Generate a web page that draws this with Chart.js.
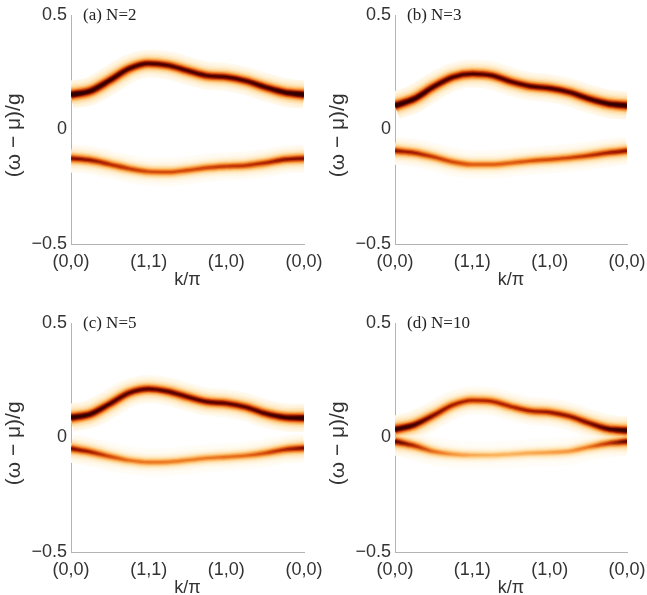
<!DOCTYPE html>
<html>
<head>
<meta charset="utf-8">
<script src="https://cdn.jsdelivr.net/npm/chart.js@4/dist/chart.umd.min.js"></script>
<style>
  html, body { margin: 0; padding: 0; background: #fff; }
  #wrap { position: relative; width: 647px; height: 595px; }
  canvas { position: absolute; }
</style>
</head>
<body>
<div id="wrap">
  <canvas id="pa" width="324" height="287" style="left:0;top:0"></canvas>
  <canvas id="pb" width="323" height="287" style="left:324px;top:0"></canvas>
  <canvas id="pc" width="324" height="287" style="left:0;top:308px"></canvas>
  <canvas id="pd" width="323" height="287" style="left:324px;top:308px"></canvas>
</div>
<script>
// momentum path (0,0) -> (1,1) -> (1,0) -> (0,0), equal spacing per leg
const kPoints = [0, 0.25, 0.5, 0.75, 1, 1.25, 1.5, 1.75, 2, 2.25, 2.5, 2.75, 3];
const kTickLabels = ['(0,0)', '(1,1)', '(1,0)', '(0,0)'];
const yTickLabels = ['\u22120.5', '0', '0.5'];

// band centres (omega - mu)/g
const upperN2 = [0.152, 0.168, 0.215, 0.266, 0.288, 0.28, 0.257, 0.235, 0.229, 0.212, 0.185, 0.162, 0.152];
const lowerN2 = [-0.126, -0.134, -0.152, -0.171, -0.184, -0.186, -0.178, -0.167, -0.161, -0.157, -0.146, -0.131, -0.126];
const upperN3 = [0.104, 0.134, 0.187, 0.229, 0.243, 0.236, 0.209, 0.189, 0.18, 0.163, 0.135, 0.113, 0.104];
const lowerN3 = [-0.093, -0.102, -0.12, -0.142, -0.153, -0.153, -0.146, -0.137, -0.131, -0.124, -0.114, -0.102, -0.093];
const upperN5 = [0.087, 0.102, 0.147, 0.195, 0.212, 0.201, 0.177, 0.156, 0.149, 0.133, 0.105, 0.088, 0.085];
const lowerN5 = [-0.048, -0.063, -0.083, -0.1, -0.108, -0.107, -0.099, -0.09, -0.085, -0.079, -0.068, -0.053, -0.046];
const upperN10 = [0.035, 0.055, 0.097, 0.142, 0.162, 0.158, 0.135, 0.116, 0.11, 0.093, 0.064, 0.038, 0.03];
const lowerN10 = [-0.017, -0.036, -0.061, -0.073, -0.077, -0.077, -0.073, -0.068, -0.065, -0.06, -0.042, -0.026, -0.017];

// spectral weight along each band (relative)
const weightUpperN2 = [1.3, 1.2, 1.1, 1.05, 1.0, 1.0, 1.0, 1.0, 1.0, 1.0, 1.05, 1.15, 1.3];
const weightLowerN2 = [0.85, 0.8, 0.7, 0.65, 0.6, 0.6, 0.6, 0.62, 0.65, 0.67, 0.72, 0.8, 0.85];
const weightUpperN3 = [1.25, 1.15, 1.05, 1.0, 1.0, 0.98, 0.98, 1.0, 1.0, 1.0, 1.05, 1.15, 1.25];
const weightLowerN3 = [0.8, 0.75, 0.65, 0.6, 0.55, 0.55, 0.55, 0.58, 0.6, 0.62, 0.68, 0.75, 0.8];
const weightUpperN5 = [1.25, 1.1, 1.0, 0.95, 0.95, 0.95, 0.95, 0.95, 0.95, 0.95, 1.0, 1.1, 1.25];
const weightLowerN5 = [0.85, 0.75, 0.6, 0.5, 0.48, 0.47, 0.47, 0.48, 0.5, 0.52, 0.6, 0.72, 0.85];
const weightUpperN10 = [1.2, 1.05, 0.85, 0.75, 0.72, 0.72, 0.72, 0.75, 0.78, 0.8, 0.85, 1.0, 1.2];
const weightLowerN10 = [0.95, 0.7, 0.5, 0.4, 0.35, 0.33, 0.33, 0.35, 0.38, 0.4, 0.48, 0.65, 0.95];

// colour map, white -> cream -> orange -> red -> dark maroon
const heatStops = [
  [0, 255, 255, 255], [0.05, 255, 251, 242], [0.1, 255, 241, 214], [0.18, 254, 222, 168],
  [0.28, 252, 186, 104], [0.4, 242, 135, 45], [0.52, 218, 82, 14], [0.64, 178, 38, 4],
  [0.76, 128, 12, 0], [0.88, 80, 2, 0], [1, 50, 0, 0]
];
function heat(t) {
  t = Math.max(0, Math.min(1, t));
  for (let i = 1; i < heatStops.length; i++) {
    const a = heatStops[i - 1], b = heatStops[i];
    if (t <= b[0]) {
      const f = (t - a[0]) / (b[0] - a[0]);
      const c = [1, 2, 3].map(j => Math.round(a[j] + (b[j] - a[j]) * f));
      return `rgb(${c[0]},${c[1]},${c[2]})`;
    }
  }
  return 'rgb(50,0,0)';
}

// half widths (px) of the stacked strokes that fake the broadened line
const layerHalfWidths = [14, 12, 10, 8.5, 7, 5.8, 4.8, 3.9, 3, 2.2, 1.2];
const profile = d => 1 / (1 + (d / 3.5) * (d / 3.5));

function heatGradient(chart, weights, hw) {
  const area = chart.chartArea;
  if (!area) return '#fff';
  const xs = chart.scales.x;
  const g = chart.ctx.createLinearGradient(area.left, 0, area.right, 0);
  weights.forEach((w, i) => {
    const pos = (xs.getPixelForValue(kPoints[i]) - area.left) / (area.right - area.left);
    g.addColorStop(Math.max(0, Math.min(1, pos)), heat(w * profile(hw)));
  });
  return g;
}

function bandLayers(energies, weights) {
  return layerHalfWidths.map((hw, j) => ({
    data: energies.map((e, i) => ({ x: kPoints[i], y: e })),
    borderWidth: hw * 2,
    borderColor: ctx => heatGradient(ctx.chart, weights, hw),
    pointRadius: 0,
    cubicInterpolationMode: 'monotone',
    borderCapStyle: 'butt',
    clip: 0,
    order: layerHalfWidths.length - j
  }));
}

const panelLabel = {
  id: 'panelLabel',
  afterDraw(chart, args, opts) {
    const { ctx, chartArea } = chart;
    ctx.save();
    ctx.font = '17px "Liberation Serif", "Times New Roman", serif';
    ctx.fillStyle = '#222';
    ctx.textBaseline = 'middle';
    ctx.fillText(opts.text, chartArea.left + 12, chartArea.top + 1);
    ctx.restore();
  }
};

const tickFont = { family: '"Liberation Sans", Arial, sans-serif', size: 18 };
const axisColor = '#b4b4b4';

function makePanel(id, label, upper, lower, wUp, wLow) {
  new Chart(document.getElementById(id), {
    type: 'line',
    data: { datasets: [...bandLayers(upper, wUp), ...bandLayers(lower, wLow)] },
    options: {
      responsive: false,
      animation: false,
      events: [],
      layout: { padding: { top: 15, right: 20, left: 0, bottom: 0 } },
      plugins: { legend: { display: false }, tooltip: { enabled: false }, panelLabel: { text: label } },
      scales: {
        x: {
          type: 'linear', min: 0, max: 3, z: 1,
          grid: { display: false, drawTicks: false },
          border: { display: true, color: axisColor, width: 1 },
          ticks: { stepSize: 1, autoSkip: false, maxRotation: 0, padding: 7, color: '#333', font: tickFont,
                   callback: (v, i) => kTickLabels[i] },
          title: { display: true, text: 'k/\u03c0', color: '#333',
                   font: { family: '"Liberation Sans", Arial, sans-serif', size: 18, lineHeight: 0.8 },
                   padding: { top: 0, bottom: 0 } },
          afterFit: s => { s.height = 43; s.paddingLeft = 0; s.paddingRight = 0; }
        },
        y: {
          type: 'linear', min: -0.5, max: 0.5, z: 1,
          grid: { display: false, drawTicks: false },
          border: { display: true, color: axisColor, width: 1 },
          ticks: { stepSize: 0.5, autoSkip: false, padding: 4, color: '#333', font: tickFont,
                   callback: (v, i) => yTickLabels[i] },
          title: { display: true, text: '(\u03c9 \u2212 \u03bc)/g\u00a0\u00a0', color: '#333',
                   font: { family: '"Liberation Sans", Arial, sans-serif', size: 21 }, padding: { top: 2, bottom: 0 } },
          afterFit: s => { s.width = 71; s.paddingTop = 0; s.paddingBottom = 0; }
        }
      }
    },
    plugins: [panelLabel]
  });
}

makePanel('pa', '(a) N=2', upperN2, lowerN2, weightUpperN2, weightLowerN2);
makePanel('pb', '(b) N=3', upperN3, lowerN3, weightUpperN3, weightLowerN3);
makePanel('pc', '(c) N=5', upperN5, lowerN5, weightUpperN5, weightLowerN5);
makePanel('pd', '(d) N=10', upperN10, lowerN10, weightUpperN10, weightLowerN10);
</script>
</body>
</html>
